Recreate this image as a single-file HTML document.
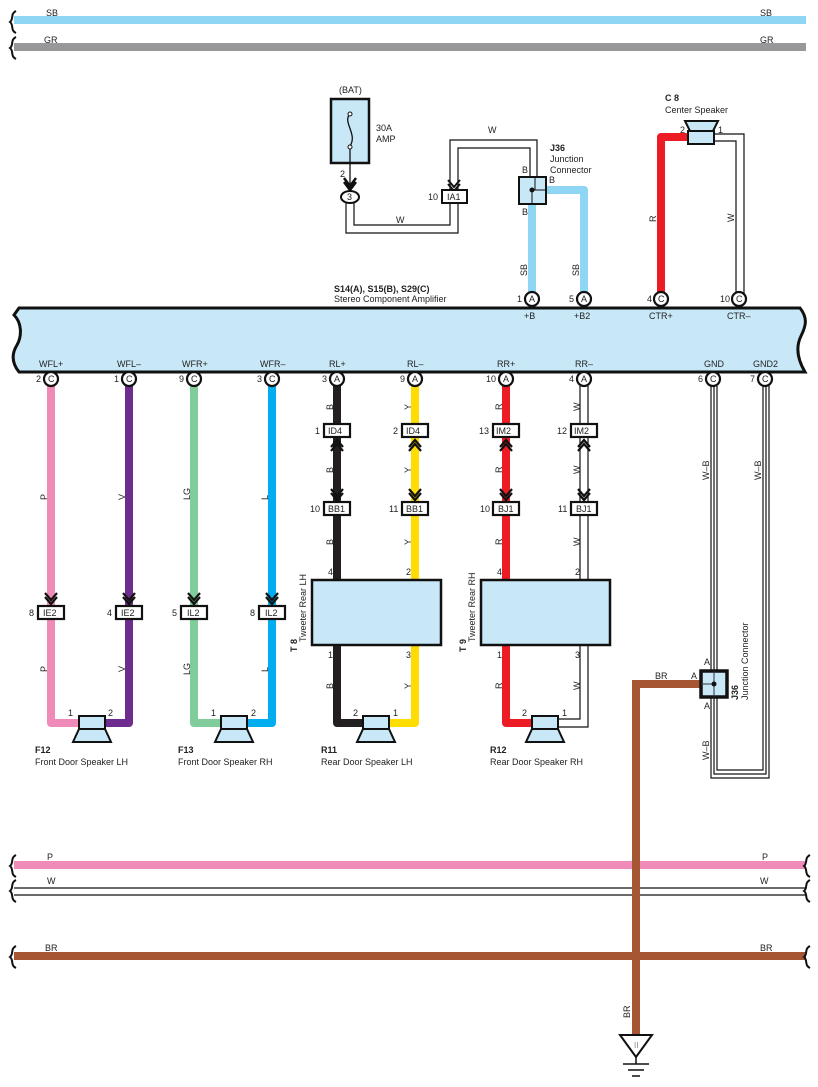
<!DOCTYPE html>
<html><head><meta charset="utf-8"><style>
html,body{margin:0;padding:0;background:#fff}
svg{display:block}
text{font-family:"Liberation Sans",Arial,sans-serif;font-size:9px;fill:#222}
.b{font-weight:bold}
</style></head><body>
<svg width="818" height="1087" viewBox="0 0 818 1087" xmlns="http://www.w3.org/2000/svg">
<defs>
<g id="brace"><path d="M4,-11 C-2,-8 2,-3 -2,0 C2,3 -2,8 4,11" fill="none" stroke="#111" stroke-width="2"/></g>
</defs>

<!-- top lines -->
<line x1="14" y1="20" x2="806" y2="20" stroke="#8fd6f5" stroke-width="8"/>
<line x1="14" y1="47" x2="806" y2="47" stroke="#98989b" stroke-width="8"/>
<use href="#brace" x="12" y="22"/><use href="#brace" x="12" y="48"/>
<text x="46" y="16">SB</text><text x="760" y="16">SB</text>
<text x="44" y="43">GR</text><text x="760" y="43">GR</text>

<!-- bottom lines -->
<line x1="14" y1="865" x2="806" y2="865" stroke="#f08ab8" stroke-width="8"/>
<line x1="14" y1="888" x2="806" y2="888" stroke="#111" stroke-width="1.3"/>
<line x1="14" y1="895" x2="806" y2="895" stroke="#111" stroke-width="1.3"/>
<line x1="14" y1="956" x2="806" y2="956" stroke="#a75634" stroke-width="8"/>
<use href="#brace" x="12" y="866"/><use href="#brace" x="12" y="891"/><use href="#brace" x="12" y="957"/>
<use href="#brace" x="806" y="866"/><use href="#brace" x="806" y="891"/><use href="#brace" x="806" y="957"/>
<text x="47" y="860">P</text><text x="762" y="860">P</text>
<text x="47" y="884">W</text><text x="760" y="884">W</text>
<text x="45" y="951">BR</text><text x="760" y="951">BR</text>

<!-- BR from J36 to ground -->
<polyline points="700,684 636,684 636,1035" fill="none" stroke="#a75634" stroke-width="8"/>
<text x="655" y="679">BR</text>
<text transform="translate(630,1018) rotate(-90)">BR</text>
<polygon points="620,1035 652,1035 636,1057" fill="#fff" stroke="#111" stroke-width="2"/>
<text x="634" y="1048" style="font-size:8px;fill:#888">II</text>
<line x1="636" y1="1057" x2="636" y2="1064" stroke="#111" stroke-width="1.5"/>
<line x1="623" y1="1064" x2="649" y2="1064" stroke="#111" stroke-width="1.5"/>
<line x1="628" y1="1070" x2="644" y2="1070" stroke="#111" stroke-width="1.5"/>
<line x1="632" y1="1076" x2="640" y2="1076" stroke="#111" stroke-width="1.5"/>

<!-- GND W-B wires -->
<g fill="none" stroke="#111" stroke-width="1.2">
<polyline points="711,386 711,778 769,778 769,386"/>
<polyline points="714,386 714,774 766,774 766,386"/>
<polyline points="717,386 717,770 763,770 763,386"/>
</g>
<rect x="701" y="671" width="26" height="26" fill="#c8e8f8" stroke="#111" stroke-width="3.5"/>
<line x1="714" y1="671" x2="714" y2="697" stroke="#333" stroke-width="1"/>
<line x1="701" y1="684" x2="714" y2="684" stroke="#333" stroke-width="1"/>
<circle cx="714" cy="684" r="2.5" fill="#111"/>
<text x="704" y="665">A</text><text x="691" y="679">A</text><text x="704" y="709">A</text>
<text class="b" transform="translate(738,700) rotate(-90)">J36</text>
<text transform="translate(748,700) rotate(-90)">Junction Connector</text>
<text transform="translate(709,480) rotate(-90)">W–B</text>
<text transform="translate(761,480) rotate(-90)">W–B</text>
<text transform="translate(709,760) rotate(-90)">W–B</text>

<!-- fuse -->
<text x="339" y="93">(BAT)</text>
<rect x="331" y="99" width="38" height="64" fill="#c8e8f8" stroke="#111" stroke-width="2.5"/>
<path d="M350,114 C342,122 358,134 350,146" fill="none" stroke="#111" stroke-width="1.3"/>
<circle cx="350" cy="114" r="2" fill="#fff" stroke="#111"/><circle cx="350" cy="147" r="2" fill="#fff" stroke="#111"/>
<line x1="350" y1="149" x2="350" y2="186" stroke="#111" stroke-width="1.3"/>
<path d="M344,178 L350,186 L356,178 M344,182 L350,190 L356,182" fill="none" stroke="#111" stroke-width="2.5"/>
<text x="376" y="131">30A</text><text x="376" y="142">AMP</text>
<text x="340" y="177">2</text>
<ellipse cx="350" cy="197" rx="9" ry="6" fill="#fff" stroke="#111" stroke-width="2"/>
<text x="347" y="200">3</text>
<!-- W wire -->
<g fill="none" stroke="#111" stroke-width="1.2">
<polyline points="346,203 346,233 458,233 458,203"/>
<polyline points="354,203 354,225 450,225 450,203"/>
<polyline points="450,190 450,140 537,140 537,177"/>
<polyline points="458,190 458,148 530,148 530,177"/>
</g>
<path d="M448,180 L454,187 L460,180 M448,184 L454,191 L460,184" fill="none" stroke="#111" stroke-width="2"/>
<rect x="442" y="190" width="25" height="13" fill="#fff" stroke="#111" stroke-width="2"/>
<text x="447" y="200">IA1</text><text x="428" y="200">10</text>
<text x="396" y="223">W</text><text x="488" y="133">W</text>

<!-- SB from J36 -->
<polyline points="532,205 532,299" fill="none" stroke="#8fd6f5" stroke-width="8"/>
<polyline points="546,190 584,190 584,299" fill="none" stroke="#8fd6f5" stroke-width="8" stroke-linejoin="round"/>
<rect x="519" y="177" width="27" height="27" fill="#c8e8f8" stroke="#111" stroke-width="2"/>
<line x1="535" y1="177" x2="535" y2="190" stroke="#111"/><line x1="532" y1="190" x2="546" y2="190" stroke="#111"/><line x1="532" y1="190" x2="532" y2="204" stroke="#111"/>
<circle cx="532" cy="190" r="2.5" fill="#111"/>
<text class="b" x="550" y="151">J36</text><text x="550" y="162">Junction</text><text x="550" y="173">Connector</text>
<text x="522" y="173">B</text><text x="549" y="183">B</text><text x="522" y="215">B</text>
<text transform="translate(527,276) rotate(-90)">SB</text>
<text transform="translate(579,276) rotate(-90)">SB</text>

<!-- center speaker -->
<text class="b" x="665" y="101">C 8</text><text x="665" y="113">Center Speaker</text>
<polyline points="688,137 661,137 661,299" fill="none" stroke="#ed1c24" stroke-width="8" stroke-linejoin="round"/>
<g fill="none" stroke="#111" stroke-width="1.2">
<polyline points="714,134 744,134 744,296"/><polyline points="714,141 736,141 736,296"/></g>
<polygon points="685,121 718,121 713,131 690,131" fill="#c8e8f8" stroke="#111" stroke-width="2"/>
<rect x="688" y="131" width="26" height="13" fill="#c8e8f8" stroke="#111" stroke-width="2"/>
<text x="680" y="133">2</text><text x="718" y="133">1</text>
<text transform="translate(656,222) rotate(-90)">R</text>
<text transform="translate(734,222) rotate(-90)">W</text>

<!-- amplifier -->
<text class="b" x="334" y="292">S14(A), S15(B), S29(C)</text>
<text x="334" y="302">Stereo Component Amplifier</text>
<path d="M19,308 L800,308 C808,318 806,326 801,336 C795,348 798,360 805,372 L19,372 C11,362 12,353 17,345 C22,336 22,323 14,315 Z" fill="#c8e8f8" stroke="#111" stroke-width="3"/>
<text x="524" y="319">+B</text><text x="574" y="319">+B2</text>
<text x="649" y="319">CTR+</text><text x="727" y="319">CTR–</text>
<text x="39" y="367">WFL+</text><text x="117" y="367">WFL–</text>
<text x="182" y="367">WFR+</text><text x="260" y="367">WFR–</text>
<text x="329" y="367">RL+</text><text x="407" y="367">RL–</text>
<text x="497" y="367">RR+</text><text x="575" y="367">RR–</text>
<text x="704" y="367">GND</text><text x="753" y="367">GND2</text>

<!-- front speaker wires -->
<g fill="none" stroke-width="8" stroke-linejoin="round">
<polyline points="51,386 51,723 80,723" stroke="#f08ab8"/>
<polyline points="129,386 129,723 104,723" stroke="#6f2c8f"/>
<polyline points="194,386 194,723 222,723" stroke="#80cc9a"/>
<polyline points="272,386 272,723 247,723" stroke="#00aeef"/>
<polyline points="337,386 337,580" stroke="#231f20"/>
<polyline points="415,386 415,580" stroke="#ffdd00"/>
<polyline points="506,386 506,580" stroke="#ed1c24"/>
<polyline points="337,646 337,723 364,723" stroke="#231f20"/>
<polyline points="415,646 415,723 389,723" stroke="#ffdd00"/>
<polyline points="506,646 506,723 533,723" stroke="#ed1c24"/>
</g>
<g fill="none" stroke="#111" stroke-width="1.2">
<line x1="580" y1="386" x2="580" y2="580"/><line x1="588" y1="386" x2="588" y2="580"/>
<polyline points="580,646 580,719 558,719"/><polyline points="588,646 588,727 558,727"/>
</g>

<!-- chevrons -->
<g fill="none" stroke="#111" stroke-width="2.2">
<path d="M45,593 L51,600 L57,593 M45,597 L51,604 L57,597"/>
<path d="M123,593 L129,600 L135,593 M123,597 L129,604 L135,597"/>
<path d="M188,593 L194,600 L200,593 M188,597 L194,604 L200,597"/>
<path d="M266,593 L272,600 L278,593 M266,597 L272,604 L278,597"/>
<path d="M331,447 L337,440 L343,447 M331,451 L337,444 L343,451"/>
<path d="M409,447 L415,440 L421,447 M409,451 L415,444 L421,451"/>
<path d="M500,447 L506,440 L512,447 M500,451 L506,444 L512,451"/>
<path d="M578,447 L584,440 L590,447 M578,451 L584,444 L590,451"/>
<path d="M331,489 L337,496 L343,489 M331,493 L337,500 L343,493"/>
<path d="M409,489 L415,496 L421,489 M409,493 L415,500 L421,493"/>
<path d="M500,489 L506,496 L512,489 M500,493 L506,500 L512,493"/>
<path d="M578,489 L584,496 L590,489 M578,493 L584,500 L590,493"/>
</g>

<!-- connector boxes -->
<g fill="#fff" stroke="#111" stroke-width="2.2">
<rect x="38" y="606" width="26" height="13"/><rect x="116" y="606" width="26" height="13"/>
<rect x="181" y="606" width="26" height="13"/><rect x="259" y="606" width="26" height="13"/>
<rect x="324" y="424" width="26" height="13"/><rect x="402" y="424" width="26" height="13"/>
<rect x="493" y="424" width="26" height="13"/><rect x="571" y="424" width="26" height="13"/>
<rect x="324" y="502" width="26" height="13"/><rect x="402" y="502" width="26" height="13"/>
<rect x="493" y="502" width="26" height="13"/><rect x="571" y="502" width="26" height="13"/>
</g>
<text x="43" y="616">IE2</text><text x="121" y="616">IE2</text><text x="187" y="616">IL2</text><text x="265" y="616">IL2</text>
<text x="29" y="616">8</text><text x="107" y="616">4</text><text x="172" y="616">5</text><text x="250" y="616">8</text>
<text x="328" y="434">ID4</text><text x="406" y="434">ID4</text><text x="496" y="434">IM2</text><text x="574" y="434">IM2</text>
<text x="315" y="434">1</text><text x="393" y="434">2</text><text x="479" y="434">13</text><text x="557" y="434">12</text>
<text x="328" y="512">BB1</text><text x="406" y="512">BB1</text><text x="498" y="512">BJ1</text><text x="576" y="512">BJ1</text>
<text x="310" y="512">10</text><text x="389" y="512">11</text><text x="480" y="512">10</text><text x="558" y="512">11</text>

<!-- pins -->
<g fill="#fff" stroke="#111" stroke-width="2.2">
<circle cx="532" cy="299" r="7"/><circle cx="584" cy="299" r="7"/><circle cx="661" cy="299" r="7"/><circle cx="739" cy="299" r="7"/>
<circle cx="51" cy="379" r="7"/><circle cx="129" cy="379" r="7"/><circle cx="194" cy="379" r="7"/><circle cx="272" cy="379" r="7"/>
<circle cx="337" cy="379" r="7"/><circle cx="415" cy="379" r="7"/><circle cx="506" cy="379" r="7"/><circle cx="584" cy="379" r="7"/>
<circle cx="713" cy="379" r="7"/><circle cx="765" cy="379" r="7"/>
</g>
<g style="font-size:8px">
<text x="529" y="302">A</text><text x="581" y="302">A</text><text x="658" y="302">C</text><text x="736" y="302">C</text>
<text x="48" y="382">C</text><text x="126" y="382">C</text><text x="191" y="382">C</text><text x="269" y="382">C</text>
<text x="334" y="382">A</text><text x="412" y="382">A</text><text x="503" y="382">A</text><text x="581" y="382">A</text>
<text x="710" y="382">C</text><text x="762" y="382">C</text>
</g>
<text x="517" y="302">1</text><text x="569" y="302">5</text><text x="647" y="302">4</text><text x="720" y="302">10</text>
<text x="36" y="382">2</text><text x="114" y="382">1</text><text x="179" y="382">9</text><text x="257" y="382">3</text>
<text x="322" y="382">3</text><text x="400" y="382">9</text><text x="486" y="382">10</text><text x="569" y="382">4</text>
<text x="698" y="382">6</text><text x="750" y="382">7</text>

<!-- wire color labels -->
<g>
<text transform="translate(47,500) rotate(-90)">P</text><text transform="translate(125,500) rotate(-90)">V</text>
<text transform="translate(190,500) rotate(-90)">LG</text><text transform="translate(268,500) rotate(-90)">L</text>
<text transform="translate(47,672) rotate(-90)">P</text><text transform="translate(125,672) rotate(-90)">V</text>
<text transform="translate(190,675) rotate(-90)">LG</text><text transform="translate(268,672) rotate(-90)">L</text>
<text transform="translate(333,410) rotate(-90)">B</text><text transform="translate(411,410) rotate(-90)">Y</text>
<text transform="translate(502,410) rotate(-90)">R</text><text transform="translate(580,411) rotate(-90)">W</text>
<text transform="translate(333,473) rotate(-90)">B</text><text transform="translate(411,473) rotate(-90)">Y</text>
<text transform="translate(502,473) rotate(-90)">R</text><text transform="translate(580,474) rotate(-90)">W</text>
<text transform="translate(333,545) rotate(-90)">B</text><text transform="translate(411,545) rotate(-90)">Y</text>
<text transform="translate(502,545) rotate(-90)">R</text><text transform="translate(580,546) rotate(-90)">W</text>
<text transform="translate(333,689) rotate(-90)">B</text><text transform="translate(411,689) rotate(-90)">Y</text>
<text transform="translate(502,689) rotate(-90)">R</text><text transform="translate(580,690) rotate(-90)">W</text>
</g>

<!-- tweeters -->
<rect x="312" y="580" width="129" height="65" fill="#c8e8f8" stroke="#111" stroke-width="2.5"/>
<rect x="481" y="580" width="129" height="65" fill="#c8e8f8" stroke="#111" stroke-width="2.5"/>
<text x="328" y="575">4</text><text x="406" y="575">2</text><text x="497" y="575">4</text><text x="575" y="575">2</text>
<text x="328" y="658">1</text><text x="406" y="658">3</text><text x="497" y="658">1</text><text x="575" y="658">3</text>
<text class="b" transform="translate(297,652) rotate(-90)">T 8</text>
<text transform="translate(306,642) rotate(-90)">Tweeter Rear LH</text>
<text class="b" transform="translate(466,652) rotate(-90)">T 9</text>
<text transform="translate(475,642) rotate(-90)">Tweeter Rear RH</text>

<!-- speakers -->
<g fill="#c8e8f8" stroke="#111" stroke-width="2">
<rect x="79" y="716" width="26" height="13"/><polygon points="79,729 105,729 111,742 73,742"/>
<rect x="221" y="716" width="26" height="13"/><polygon points="221,729 247,729 253,742 215,742"/>
<rect x="363" y="716" width="26" height="13"/><polygon points="363,729 389,729 395,742 357,742"/>
<rect x="532" y="716" width="26" height="13"/><polygon points="532,729 558,729 564,742 526,742"/>
</g>
<text x="68" y="716">1</text><text x="108" y="716">2</text>
<text x="211" y="716">1</text><text x="251" y="716">2</text>
<text x="353" y="716">2</text><text x="393" y="716">1</text>
<text x="522" y="716">2</text><text x="562" y="716">1</text>
<text class="b" x="35" y="753">F12</text><text x="35" y="765">Front Door Speaker LH</text>
<text class="b" x="178" y="753">F13</text><text x="178" y="765">Front Door Speaker RH</text>
<text class="b" x="321" y="753">R11</text><text x="321" y="765">Rear Door Speaker LH</text>
<text class="b" x="490" y="753">R12</text><text x="490" y="765">Rear Door Speaker RH</text>
</svg>
</body></html>
